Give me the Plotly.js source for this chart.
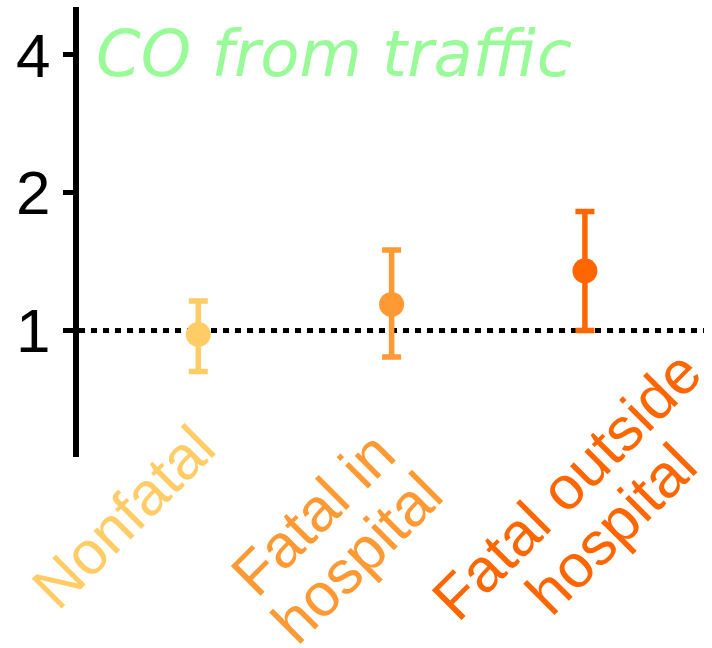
<!DOCTYPE html>
<html>
<head>
<meta charset="utf-8">
<script src="https://cdn.plot.ly/plotly-3.0.1.min.js"></script>
<style>html,body{margin:0;padding:0;background:#fff;}#chart{width:712px;height:648px;}</style>
</head>
<body>
<div id="chart"></div>
<script>
// ---- data ----
var categories = ['Nonfatal', 'Fatal in hospital', 'Fatal outside hospital'];
var labelLines = [['Nonfatal'], ['Fatal in', 'hospital'], ['Fatal outside', 'hospital']];
var estimates = [0.98, 1.14, 1.35];
var ciLower = [0.813, 0.875, 1.00];
var ciUpper = [1.16, 1.50, 1.82];
var colors = ['#FFCC66', '#FF9933', '#FF6600'];
var yTickVals = [1, 2, 4];
var yTickText = ['1', '2', '4'];
var refValue = 1;
var titleText = 'CO from traffic';

// ---- layout geometry ----
var W = 712, H = 648;
var mL = 79, mR = 8, mT = 7, mB = 191;
var plotW = W - mL - mR, plotH = H - mT - mB;
var xRange = [-0.617, 2.616];
var yRange = [-0.2765, 0.7069];

var traces = categories.map(function (c, i) {
  return {
    type: 'scatter', mode: 'markers',
    x: [i], y: [estimates[i]],
    marker: {size: 25, color: colors[i]},
    error_y: {
      type: 'data', symmetric: false,
      array: [ciUpper[i] - estimates[i]],
      arrayminus: [estimates[i] - ciLower[i]],
      color: colors[i], thickness: 5.5, width: 9.5
    },
    showlegend: false, hoverinfo: 'skip', cliponaxis: false
  };
});

// label line offsets: [x pixels from category, y pixels below plot bottom] of each rotated line centre
var lineShift = [
  [[-75, 60]],
  [[-79, 57], [-35, 101]],
  [[-18, 28], [26, 72]]
];
var annotations = [];
labelLines.forEach(function (lines, i) {
  lines.forEach(function (txt, j) {
    var s = lineShift[i][j];
    annotations.push({
      xref: 'x', yref: 'paper', x: i, y: -s[1] / plotH,
      xshift: s[0],
      text: txt, showarrow: false, textangle: -45,
      xanchor: 'center', yanchor: 'middle',
      font: {family: 'Liberation Sans, Arial, sans-serif', size: 61, color: colors[i]}
    });
  });
});
annotations.push({
  xref: 'paper', yref: 'paper', x: (94 - mL) / plotW, y: (457 - 15) / plotH,
  xanchor: 'left', yanchor: 'top', showarrow: false,
  text: titleText,
  font: {family: 'DejaVu Sans, sans-serif', size: 64, color: '#98FB98', style: 'italic'}
});

var layout = {
  width: W, height: H,
  margin: {l: mL, r: mR, t: mT, b: mB, pad: 0},
  paper_bgcolor: '#fff', plot_bgcolor: '#fff',
  showlegend: false,
  xaxis: {
    type: 'linear', range: xRange, showgrid: false, zeroline: false,
    showline: false, showticklabels: false, ticks: ''
  },
  yaxis: {
    type: 'log', range: yRange, showgrid: false, zeroline: false,
    showline: true, linewidth: 6, linecolor: '#000',
    ticks: 'outside', ticklen: 10, tickwidth: 5, tickcolor: '#000',
    tickvals: yTickVals, ticktext: yTickText,
    tickfont: {family: 'Liberation Sans, Arial, sans-serif', size: 62, color: '#000'}
  },
  shapes: [{
    type: 'line', xref: 'paper', yref: 'y', x0: 0, x1: 1, y0: refValue, y1: refValue,
    layer: 'below', line: {color: '#000', width: 5, dash: '6px,6px'}
  }],
  annotations: annotations
};

Plotly.newPlot('chart', traces, layout, {displayModeBar: false, staticPlot: true});
</script>
</body>
</html>
